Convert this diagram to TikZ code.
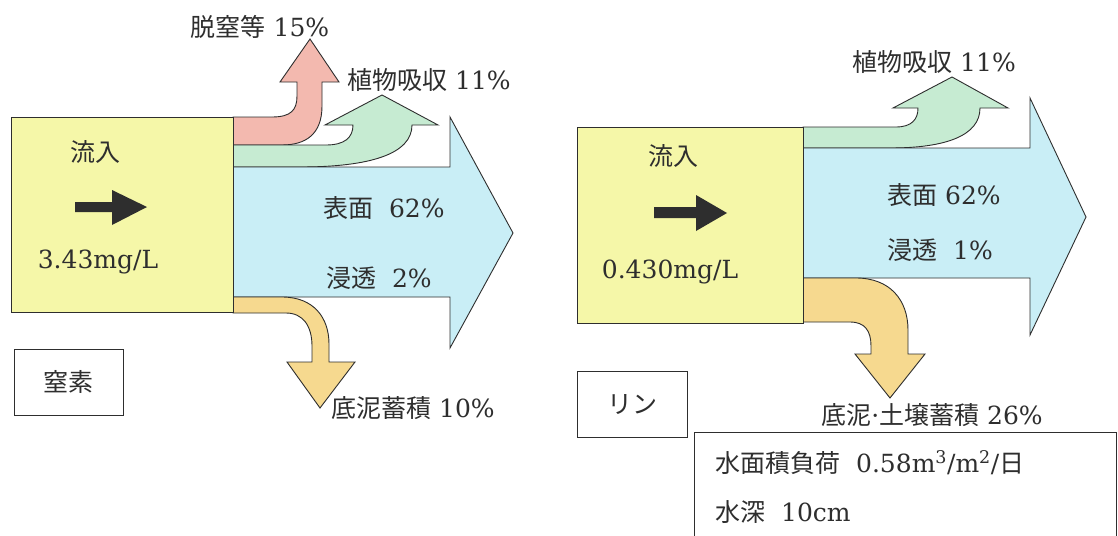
\documentclass[tikz,border=0pt]{standalone}
\usepackage{fontspec}
\setmainfont{DejaVu Serif}
\newfontfamily\cjk{Noto Sans CJK JP}
\newcommand{\jtext}[1]{{\cjk #1}}
\definecolor{boxyellow}{HTML}{F5F7A8}
\definecolor{flowpink}{HTML}{F3B9AF}
\definecolor{flowgreen}{HTML}{C6EBD2}
\definecolor{flowblue}{HTML}{C9EEF6}
\definecolor{floworange}{HTML}{F6D98F}
\definecolor{ink}{HTML}{2E2E2E}
\begin{document}
\begin{tikzpicture}[x=1pt,y=-1pt,
  flow/.style={draw=ink, line width=0.9pt, line join=miter},
  framebox/.style={draw=ink, line width=0.9pt},
  lbl/.style={text=ink, inner sep=0pt, font=\fontsize{25}{30}\selectfont},
  inarrow/.style={fill=ink, draw=none}]
\useasboundingbox (0,0) rectangle (1118,535);
\fill[white] (0,0) rectangle (1118,535);

% ================= LEFT PANEL (nitrogen) =================
% pink arrow (denitrification)
\path[flow, fill=flowpink] (233,117) -- (272,117)
  .. controls (291,117) and (297,110) .. (297,96) -- (297,82) -- (280,82)
  -- (310,39) -- (339,82) -- (322,82) -- (322,106)
  .. controls (322,134) and (306,145) .. (282,145) -- (233,145) -- cycle;
% green arrow (plant uptake)
\path[flow, fill=flowgreen] (233,145) -- (326,145)
  .. controls (344,145) and (353,138) .. (353,125) -- (325,125)
  -- (382,95) -- (438,125) -- (412,125)
  .. controls (412,154) and (370,167) .. (300,167) -- (233,167) -- cycle;
% blue arrow (surface + infiltration)
\path[flow, fill=flowblue] (233,167) -- (450,167) -- (450,117)
  -- (513,233) -- (450,348) -- (450,297) -- (233,297) -- cycle;
% orange arrow (sediment)
\path[flow, fill=floworange] (233,297) -- (282,297)
  .. controls (314,297) and (329,318) .. (329,344) -- (329,362) -- (355,362)
  -- (320,408) -- (287,362) -- (312,362) -- (312,346)
  .. controls (312,326) and (303,313) .. (286,313) -- (233,313) -- cycle;
% inflow box
\node[framebox, fill=boxyellow, minimum width=222pt, minimum height=195pt,
  inner sep=0pt, anchor=north west] (boxN) at (11,117) {};
\path[inarrow] (75,202) -- (112,202) -- (112,190) -- (147,207)
  -- (112,225) -- (112,212) -- (75,212) -- cycle;
\node[lbl] (inN) at (95,152) {\jtext{流入}};
\node[lbl] (concN) at (98,262) {3.43mg/L};
% labels
\node[lbl] (denN) at (260,27) {\jtext{脱窒等} 15\%};
\node[lbl] (plantN) at (429,80) {\jtext{植物吸収} 11\%};
\node[lbl, anchor=west] (surfN) at (323,208) {\jtext{表面}\ \ 62\%};
\node[lbl, anchor=west] (infN) at (326,278) {\jtext{浸透}\ \ 2\%};
\node[lbl] (sedN) at (413,408) {\jtext{底泥蓄積} 10\%};
\node[framebox, minimum width=109pt, minimum height=66pt, inner sep=0pt,
  anchor=north west] (tagN) at (14,349) {};
\node[lbl] (tagNt) at (tagN.center) {\jtext{窒素}};

% ================= RIGHT PANEL (phosphorus) =================
% green arrow (plant uptake)
\path[flow, fill=flowgreen] (803,127) -- (896,127)
  .. controls (912,127) and (918,119) .. (918,108) -- (893,108)
  -- (952,77) -- (1008,108) -- (980,108)
  .. controls (980,136) and (945,148) .. (890,148) -- (803,148) -- cycle;
% blue arrow
\path[flow, fill=flowblue] (803,148) -- (1030,148) -- (1030,98)
  -- (1086,217) -- (1030,335) -- (1030,278) -- (803,278) -- cycle;
% orange arrow
\path[flow, fill=floworange] (803,278) -- (856,278)
  .. controls (890,278) and (908,300) .. (908,330) -- (908,354) -- (925,354)
  -- (890,398) -- (855,354) -- (871,354) -- (871,346)
  .. controls (871,331) and (865,322) .. (850,322) -- (803,322) -- cycle;
% inflow box
\node[framebox, fill=boxyellow, minimum width=226pt, minimum height=196pt,
  inner sep=0pt, anchor=north west] (boxP) at (577,127) {};
\path[inarrow] (654,207) -- (696,207) -- (696,195) -- (727,213)
  -- (696,231) -- (696,218) -- (654,218) -- cycle;
\node[lbl] (inP) at (673,156) {\jtext{流入}};
\node[lbl] (concP) at (670,272) {0.430mg/L};
% labels
\node[lbl] (plantP) at (934,62) {\jtext{植物吸収} 11\%};
\node[lbl, anchor=west] (surfP) at (887,195) {\jtext{表面} 62\%};
\node[lbl, anchor=west] (infP) at (887,250) {\jtext{浸透}\ \ 1\%};
\node[lbl] (sedP) at (932,415) {\jtext{底泥}·\jtext{土壌蓄積} 26\%};
\node[framebox, minimum width=110pt, minimum height=66pt, inner sep=0pt,
  anchor=north west] (tagP) at (577,371) {};
\node[lbl] (tagPt) at (tagP.center) {\jtext{リン}};
% condition box (cut by the lower edge)
\begin{scope}
\clip (0,0) rectangle (1118,535);
\draw[framebox] (694,560) -- (694,432) -- (1116,432) -- (1116,560);
\end{scope}
\node[lbl, anchor=west] (loadP) at (715,463)
  {\jtext{水面積負荷}\ \ 0.58m\textsuperscript{3}/m\textsuperscript{2}/\jtext{日}};
\node[lbl, anchor=west] (depthP) at (715,512) {\jtext{水深}\ \ 10cm};
\end{tikzpicture}
\end{document}
